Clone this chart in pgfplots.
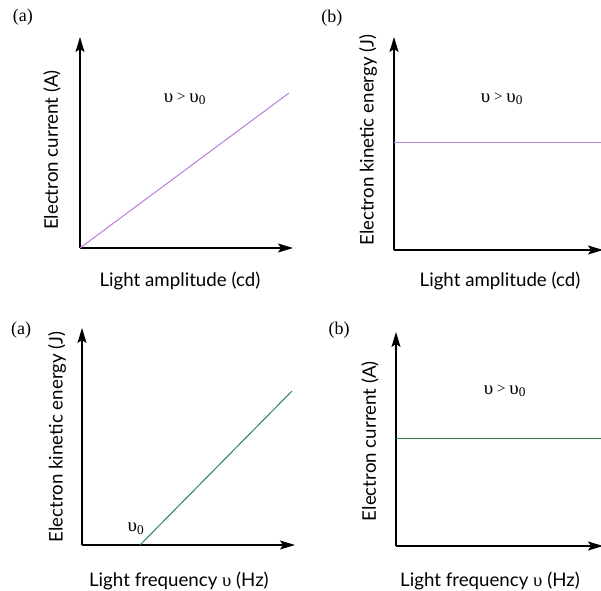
\documentclass[border=0pt]{standalone}
\usepackage{fontspec}
\setmainfont{Lato}
\newfontfamily\serif{Liberation Serif}
\usepackage{pgfplots}
\pgfplotsset{compat=1.18}
\usetikzlibrary{arrows.meta}
\definecolor{lav}{RGB}{185,125,222}
\definecolor{mauve}{RGB}{180,130,205}
\definecolor{dgreen}{RGB}{45,128,80}
\newcommand{\lbl}{\fontsize{18.7}{21}\selectfont}
\newcommand{\cond}{{\serif\fontsize{19}{21}\selectfont υ\hspace{0.2em}\raisebox{0.05ex}{\fontsize{15}{17}\selectfont >}\hspace{0.2em}υ\textsubscript{0}}}
\pgfplotsset{panel/.style={
  scale only axis, axis lines=left, enlargelimits=false,
  xtick=\empty, ytick=\empty, xmin=0, ymin=0,
  anchor=south west, clip=false,
  axis line style={line width=1.2pt, black, -{Stealth[length=15pt,width=9pt,inset=3pt]}},
  every axis x label/.style={anchor=center, font=\lbl},
  every axis y label/.style={anchor=center, rotate=90, font=\lbl},
}}
\begin{document}
\begin{tikzpicture}[x=1pt,y=1pt]
\useasboundingbox (0,0) rectangle (601,590);
% Panel 1
\begin{axis}[panel, at={(80pt,342pt)}, width=213pt, height=211pt, xmax=213, ymax=211,
  xlabel={Light amplitude (cd)}, ylabel={Electron current (A)},
  xlabel style={at={(axis description cs:0.469,-0.156)}},
  ylabel style={at={(axis description cs:-0.131,0.464)}}]
\addplot[lav, line width=1pt] coordinates {(0,0) (209,155)};
\node at (axis cs:105,149) {\cond};
\node at (rel axis cs:-0.268,1.095) {\serif\fontsize{18}{20}\selectfont (a)};
\end{axis}
% Panel 2
\begin{axis}[panel, at={(394pt,340pt)}, width=209pt, height=213pt, xmax=209, ymax=213,
  xlabel={Light amplitude (cd)}, ylabel={Electron kinetic energy (J)},
  xlabel style={at={(axis description cs:0.507,-0.146)}},
  ylabel style={at={(axis description cs:-0.124,0.516)}}]
\addplot[mauve, line width=1pt] coordinates {(0,107) (207,107)};
\node at (axis cs:108,151) {\cond};
\node at (rel axis cs:-0.297,1.089) {\serif\fontsize{18}{20}\selectfont (b)};
\end{axis}
% Panel 3
\begin{axis}[panel, at={(82pt,45pt)}, width=213pt, height=217pt, xmax=213, ymax=217,
  xlabel={Light frequency {\serif υ} (Hz)}, ylabel={Electron kinetic energy (J)},
  xlabel style={at={(axis description cs:0.455,-0.166)}},
  ylabel style={at={(axis description cs:-0.117,0.498)}}]
\addplot[dgreen, line width=1pt] coordinates {(58,0) (210,154)};
\node at (axis cs:54,16) {\serif\fontsize{19}{21}\selectfont υ\textsubscript{0}};
\node at (rel axis cs:-0.286,0.99) {\serif\fontsize{18}{20}\selectfont (a)};
\end{axis}
% Panel 4
\begin{axis}[panel, at={(396pt,44pt)}, width=207pt, height=214pt, xmax=207, ymax=214,
  xlabel={Light frequency {\serif υ} (Hz)}, ylabel={Electron current (A)},
  xlabel style={at={(axis description cs:0.454,-0.164)}},
  ylabel style={at={(axis description cs:-0.126,0.49)}}]
\addplot[dgreen, line width=1pt] coordinates {(0,108) (205,108)};
\node at (axis cs:109,155) {\cond};
\node at (rel axis cs:-0.275,1.01) {\serif\fontsize{18}{20}\selectfont (b)};
\end{axis}
\end{tikzpicture}
\end{document}
